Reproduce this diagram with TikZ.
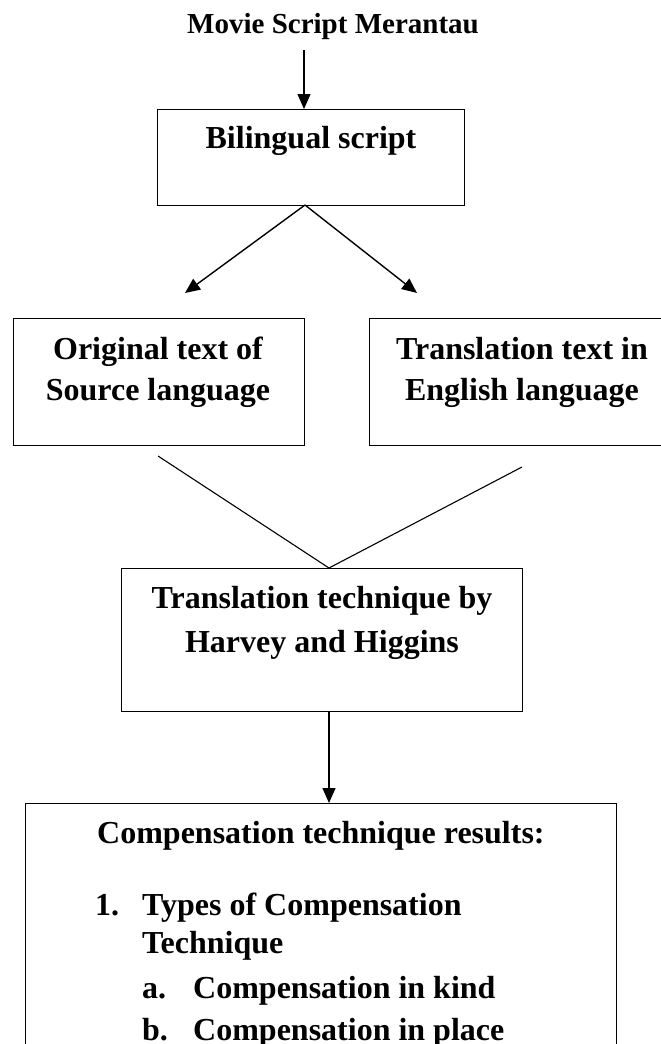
\documentclass[tikz,border=0pt]{standalone}
\usepackage{fontspec}
\setmainfont{Liberation Serif}
\usetikzlibrary{arrows.meta}
\begin{document}
\begin{tikzpicture}[x=1pt,y=-1pt,
  box/.style={draw, line width=1.4pt, rectangle, inner sep=0pt, anchor=north west},
  arr/.style={line width=1.4pt, -{Triangle[length=15pt,width=13pt]}},
  plainline/.style={line width=1.1pt},
  txt/.style={font=\fontsize{32}{41}\selectfont\bfseries, inner sep=0pt, anchor=base},
  ltxt/.style={font=\fontsize{32}{41}\selectfont\bfseries, inner sep=0pt, anchor=base west},
  ttl/.style={font=\fontsize{29}{35}\selectfont\bfseries, inner sep=0pt, anchor=base},
]
\useasboundingbox (0,0) rectangle (661,1044);

% title
\node[ttl] (title) at (333,33) {Movie Script Merantau};

% boxes
\node[box, minimum width=307pt, minimum height=96pt] (bil) at (157,109) {};
\node[box, minimum width=291pt, minimum height=127pt] (src) at (13,318) {};
\node[box, minimum width=320pt, minimum height=127pt] (tgt) at (369,318) {};
\node[box, minimum width=401pt, minimum height=143pt] (tech) at (121,568) {};
\node[box, minimum width=591pt, minimum height=270pt] (comp) at (25,803) {};

% box texts
\node[txt] (bilt) at (311,148) {Bilingual script};
\node[txt] (srct1) at (158,359) {Original text of};
\node[txt] (srct2) at (158,400) {Source language};
\node[txt] (tgtt1) at (522,359) {Translation text in};
\node[txt] (tgtt2) at (522,400) {English language};
\node[txt] (techt1) at (322,608) {Translation technique by};
\node[txt] (techt2) at (322,652) {Harvey and Higgins};
\node[ltxt] (compt0) at (97,843) {Compensation technique results:};
\node[ltxt] (num1) at (95,915) {1.};
\node[ltxt] (compt1) at (142,915) {Types of Compensation};
\node[ltxt] (compt2) at (142,953) {Technique};
\node[ltxt] (lettera) at (142,998) {a.};
\node[ltxt] (compa) at (193,998) {Compensation in kind};
\node[ltxt] (letterb) at (142,1040) {b.};
\node[ltxt] (compb) at (193,1040) {Compensation in place};

% connector coordinates
\coordinate (t1) at (304,50);
\coordinate (bilbot) at (305,205);
\coordinate (lt) at (185,293);
\coordinate (rt) at (417,293);
\coordinate (vl) at (158,456);
\coordinate (vr) at (522,467);
\coordinate (apex) at (329,568);
\coordinate (techbot) at (329,711);

% connectors
\draw[arr] (t1) -- (t1 |- bil.north);
\draw[arr] (bilbot) -- (lt);
\draw[arr] (bilbot) -- (rt);
\draw[plainline] (vl) -- (apex) -- (vr);
\draw[arr] (techbot) -- (techbot |- comp.north);
\end{tikzpicture}
\end{document}
